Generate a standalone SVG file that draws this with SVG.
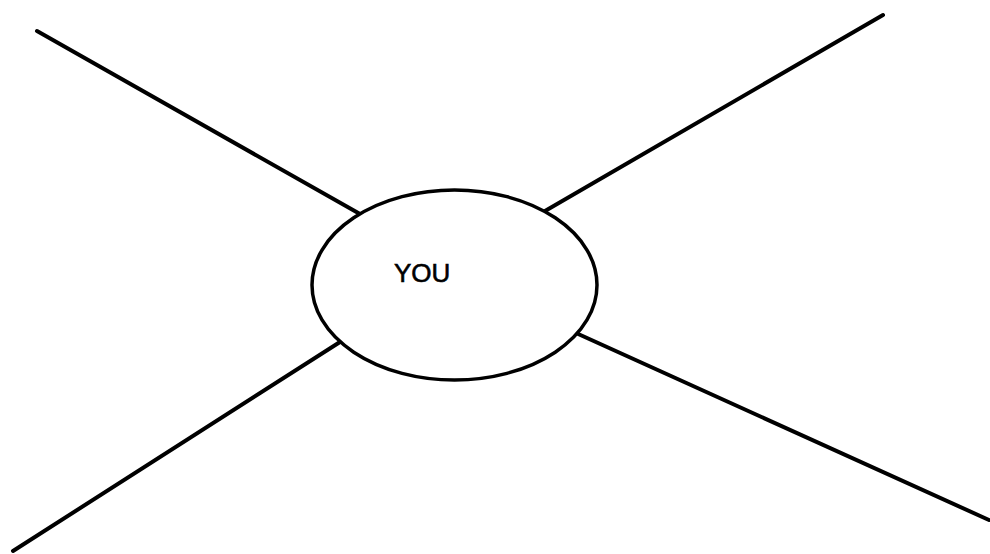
<svg xmlns="http://www.w3.org/2000/svg" width="990" height="554" viewBox="0 0 990 554">
<style>
.ln{stroke:#000;stroke-width:4;stroke-linecap:round;fill:none}
.nd{stroke:#000;stroke-width:3.5;fill:#fff}
.lb{font-family:"Liberation Sans",Arial,sans-serif;font-size:26px;fill:#000;stroke:#000;stroke-width:0.6}
</style>
<rect width="990" height="554" fill="#fff"/>
<g id="connectors">
<line class="ln" x1="37" y1="31" x2="360" y2="214"/>
<line class="ln" x1="883" y1="15" x2="545" y2="211"/>
<line class="ln" x1="13" y1="551" x2="340" y2="342"/>
<line class="ln" x1="989" y1="520" x2="576" y2="333"/>
</g>
<g id="you">
<ellipse class="nd" cx="454.5" cy="285" rx="142.5" ry="95"/>
<text class="lb" x="394" y="282">YOU</text>
</g>
</svg>
